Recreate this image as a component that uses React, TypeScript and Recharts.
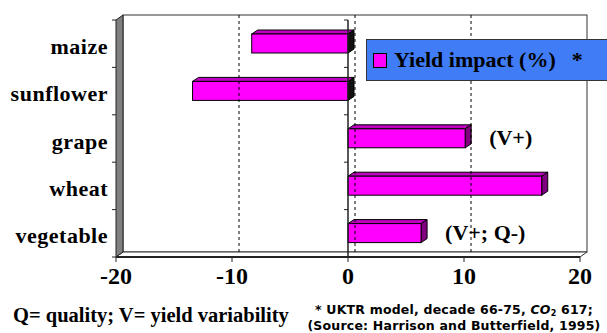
import React from 'react';
import {
  BarChart,
  Bar,
  XAxis,
  YAxis,
  LabelList,
  ReferenceArea,
  ReferenceLine,
} from 'recharts';

// ─── Data ─────────────────────────────────────────────────────────────────────

const crops = ['maize', 'sunflower', 'grape', 'wheat', 'vegetable'];
const yieldImpact = [-8.3, -13.4, 10.1, 16.7, 6.3];
const notes = ['', '', '(V+)', '', '(V+; Q-)'];
const xTicks = [-20, -10, 0, 10, 20];
const gridValues = [-10, 0, 10];

const data = crops.map((crop, i) => ({ crop, impact: yieldImpact[i], note: notes[i] }));

// ─── Constants ────────────────────────────────────────────────────────────────

const SERIF = 'Liberation Serif, Times New Roman, serif';
const MAGENTA = '#ff00ff';
const MAGENTA_TOP = '#c000c0';
const MAGENTA_SIDE = '#800080';
const LEGEND_BLUE = '#3f7cf6';
const WALL_DX = 7; // depth offset of the back wall
const WALL_DY = -5;
const BAR_DX = 6;
const BAR_DY = -4;

// ─── 3D frame (walls + floor) ────────────────────────────────────────────────

function Frame(props: any) {
  const { x, y, width, height } = props;
  const r = x + width;
  const b = y + height;
  const n = crops.length;
  const band = height / n;
  return (
    <g>
      {/* back wall */}
      <rect x={x + WALL_DX} y={y + WALL_DY} width={width} height={height} fill="#fff" stroke="#333" strokeWidth={1} />
      {/* floor */}
      <polygon
        points={`${x},${b} ${r},${b} ${r + WALL_DX},${b + WALL_DY} ${x + WALL_DX},${b + WALL_DY}`}
        fill="#fff"
        stroke="#333"
        strokeWidth={1}
      />
      {/* left wall */}
      <polygon
        points={`${x},${b} ${x},${y} ${x + WALL_DX},${y + WALL_DY} ${x + WALL_DX},${b + WALL_DY}`}
        fill="#808080"
        stroke="#222"
        strokeWidth={1}
      />
      {Array.from({ length: n + 1 }).map((_, i) => (
        <line key={i} x1={x - 4} x2={x} y1={y + i * band} y2={y + i * band} stroke="#222" />
      ))}
    </g>
  );
}

function BackGrid(props: any) {
  const { x1, y1, y2 } = props;
  return (
    <line
      x1={x1 + WALL_DX}
      x2={x1 + WALL_DX}
      y1={Math.min(y1, y2) + WALL_DY}
      y2={Math.max(y1, y2) + WALL_DY}
      stroke="#000"
      strokeDasharray="3 3"
      strokeWidth={1}
    />
  );
}

function ZeroAxis(props: any) {
  const { x1, y1, y2 } = props;
  const top = Math.min(y1, y2);
  const bot = Math.max(y1, y2);
  const n = crops.length;
  const band = (bot - top) / n;
  return (
    <g>
      <line x1={x1} x2={x1} y1={top} y2={bot} stroke="#222" strokeWidth={1.5} />
      {Array.from({ length: n + 1 }).map((_, i) => (
        <line key={i} x1={x1 - 4} x2={x1} y1={top + i * band} y2={top + i * band} stroke="#222" />
      ))}
    </g>
  );
}

// ─── Ticks ────────────────────────────────────────────────────────────────────

function XTick(props: any) {
  const { x, y, payload } = props;
  return (
    <text x={x} y={y + 20} textAnchor="middle" style={{ fontFamily: SERIF, fontWeight: 'bold', fontSize: 24 }} fill="#000">
      {payload.value}
    </text>
  );
}

function YTick(props: any) {
  const { x, y, payload } = props;
  return (
    <text
      x={x}
      y={y + 3}
      dy="0.32em"
      textAnchor="end"
      style={{ fontFamily: SERIF, fontWeight: 'bold', fontSize: 22, letterSpacing: '0.5px' }}
      fill="#000"
    >
      {payload.value}
    </text>
  );
}

// ─── 3D bar ───────────────────────────────────────────────────────────────────

function Bar3D(props: any) {
  const { x, y, width, height, payload } = props;
  const x0 = Math.min(x, x + width);
  const w = Math.abs(width);
  const neg = payload.impact < 0;
  return (
    <g>
      <polygon
        points={`${x0},${y} ${x0 + BAR_DX},${y + BAR_DY} ${x0 + w + BAR_DX},${y + BAR_DY} ${x0 + w},${y}`}
        fill={MAGENTA_TOP}
        stroke="#000"
        strokeWidth={1}
      />
      <polygon
        points={`${x0 + w},${y} ${x0 + w + BAR_DX},${y + BAR_DY} ${x0 + w + BAR_DX},${y + height + BAR_DY} ${x0 + w},${y + height}`}
        fill={neg ? '#111' : MAGENTA_SIDE}
        stroke="#000"
        strokeWidth={1}
      />
      <rect x={x0} y={y} width={w} height={height} fill={MAGENTA} stroke="#000" strokeWidth={1} />
    </g>
  );
}

function NoteLabel(props: any) {
  const { x, y, width, height, value } = props;
  if (!value) return null;
  return (
    <text
      x={x + width + 24}
      y={y + height / 2}
      dy="0.3em"
      style={{ fontFamily: SERIF, fontWeight: 'bold', fontSize: 22 }}
      fill="#000"
    >
      {value}
    </text>
  );
}

// ─── Main ─────────────────────────────────────────────────────────────────────

export default function App() {
  return (
    <div style={{ position: 'absolute', left: 0, top: 0, width: 607, height: 333, background: '#fff', overflow: 'hidden' }}>
      <BarChart
        width={607}
        height={333}
        data={data}
        layout="vertical"
        margin={{ top: 20, right: 27, left: 0, bottom: 0 }}
      >
        <ReferenceArea x1={-20} x2={20} shape={<Frame />} ifOverflow="visible" />
        {gridValues.map((v) => (
          <ReferenceLine key={v} x={v} shape={<BackGrid />} ifOverflow="visible" />
        ))}
        <XAxis
          type="number"
          domain={[-20, 20]}
          ticks={xTicks}
          height={76}
          axisLine={{ stroke: '#222', strokeWidth: 2 }}
          tickLine={{ stroke: '#222' }}
          tickSize={5}
          tick={<XTick />}
        />
        <YAxis
          type="category"
          dataKey="crop"
          width={116}
          axisLine={false}
          tickLine={false}
          tickSize={0}
          tickMargin={8}
          tick={<YTick />}
        />
        <ReferenceLine x={0} shape={<ZeroAxis />} ifOverflow="visible" />
        <Bar dataKey="impact" barSize={19} shape={<Bar3D />} isAnimationActive={false}>
          <LabelList dataKey="note" content={<NoteLabel />} />
        </Bar>
      </BarChart>

      {/* legend */}
      <div
        style={{
          position: 'absolute',
          left: 366,
          top: 39,
          width: 250,
          height: 40,
          background: LEGEND_BLUE,
          border: '1px solid #333',
          display: 'flex',
          alignItems: 'center',
          fontFamily: SERIF,
          fontWeight: 'bold',
          fontSize: 22,
          color: '#000',
          whiteSpace: 'nowrap',
        }}
      >
        <span
          style={{
            display: 'inline-block',
            width: 12,
            height: 13,
            background: MAGENTA,
            border: '1px solid #000',
            marginLeft: 6,
            marginRight: 7,
          }}
        />
        <span>Yield impact (%)</span>
        <span style={{ marginLeft: 16 }}>*</span>
      </div>

      <div
        style={{
          position: 'absolute',
          left: 13,
          top: 305,
          fontFamily: SERIF,
          fontWeight: 'bold',
          fontSize: 20.5,
          lineHeight: '20px',
          whiteSpace: 'nowrap',
        }}
      >
        Q= quality; V= yield variability
      </div>
      <div
        style={{
          position: 'absolute',
          left: 302,
          top: 303,
          fontFamily: 'DejaVu Sans, sans-serif',
          fontWeight: 'bold',
          fontSize: 12.5,
          lineHeight: '14px',
          letterSpacing: '0.2px',
          whiteSpace: 'nowrap',
          textAlign: 'center',
          width: 304,
        }}
      >
        * UKTR model, decade 66-75, <i>CO</i>
        <span style={{ fontSize: 8, position: 'relative', top: 2 }}>2</span> 617;
        <br />
        (Source: Harrison and Butterfield, 1995)
      </div>
    </div>
  );
}
